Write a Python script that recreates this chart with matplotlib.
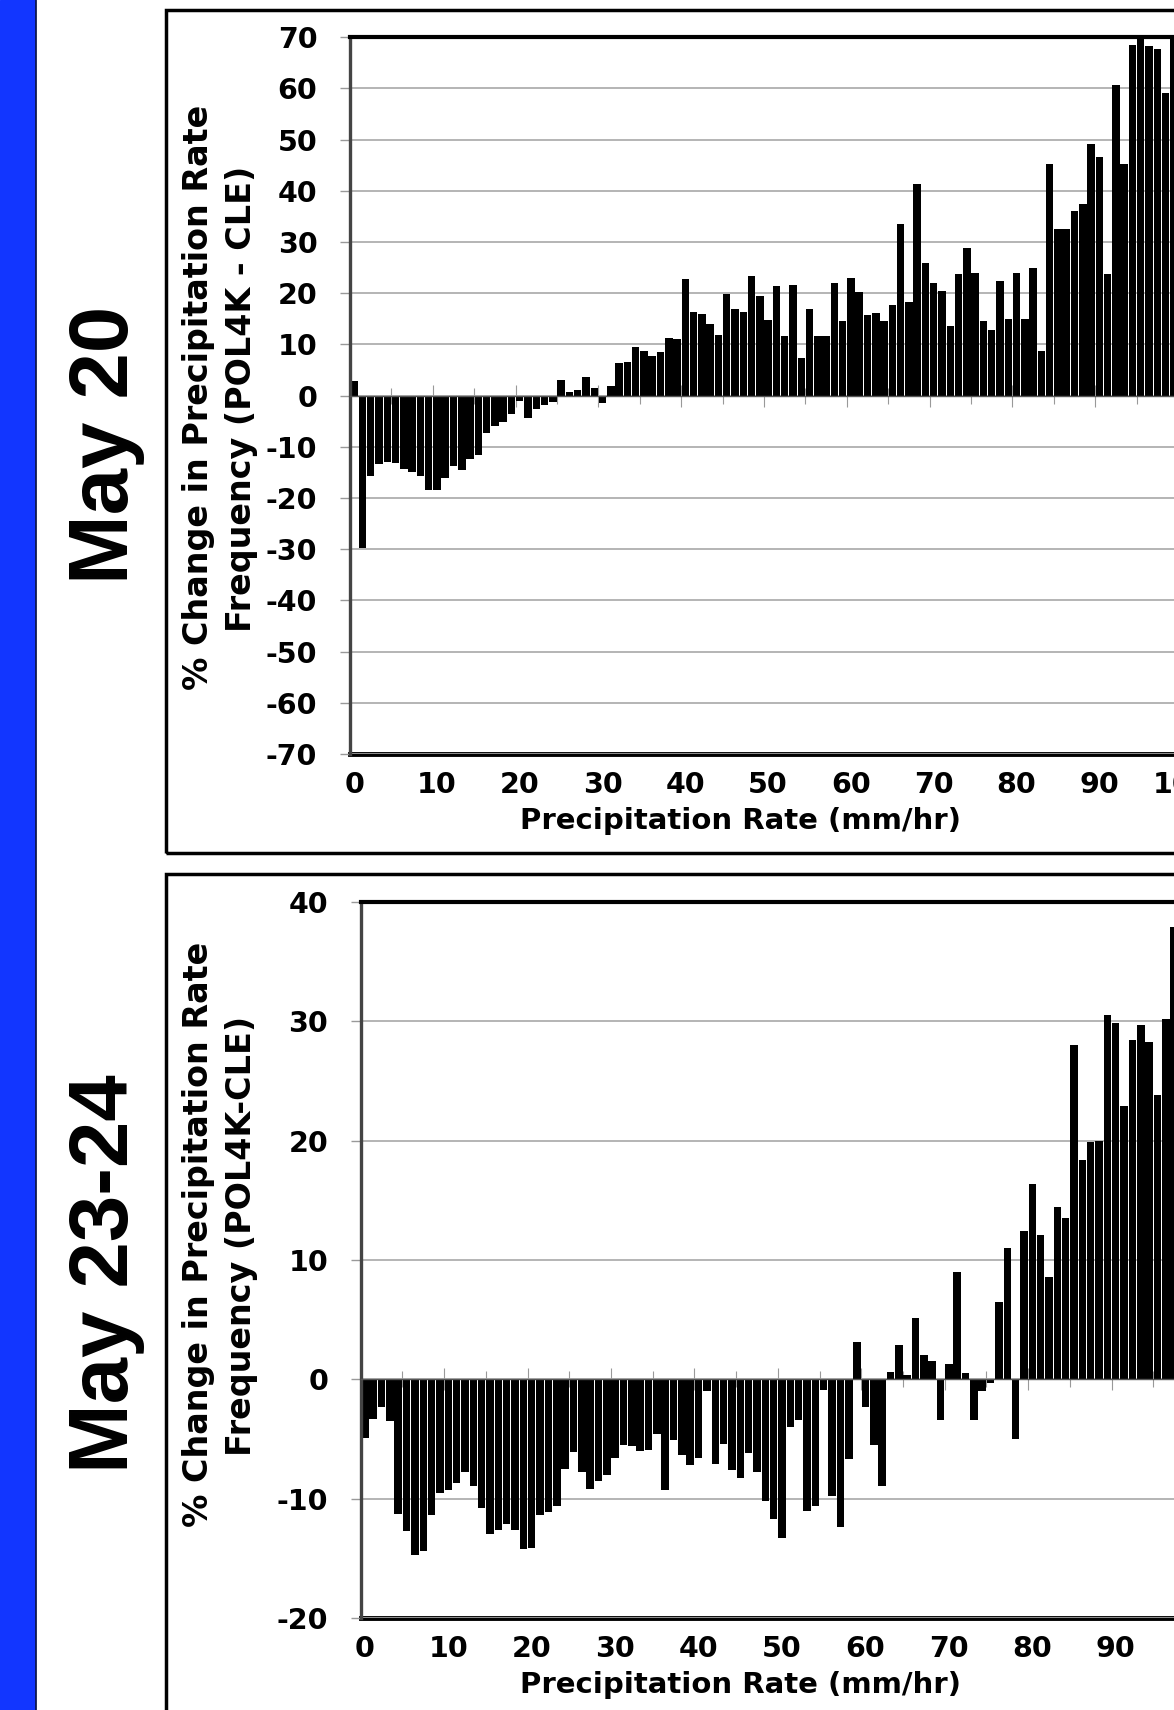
import numpy as np
import matplotlib
matplotlib.use("Agg")
import matplotlib.pyplot as plt
from matplotlib.patches import Rectangle
from matplotlib.lines import Line2D
from matplotlib.ticker import FixedLocator, NullFormatter

# % change in precipitation rate frequency, one bar per 1 mm/hr bin
may20_change = [
    2.8, -29.7, -15.6, -13.4, -13.0, -13.2, -14.3, -15.0, -15.6, -18.5,
    -18.4, -16.0, -13.7, -14.5, -12.4, -11.6, -7.2, -5.9, -5.2, -3.6,
    -1.0, -4.3, -2.7, -1.8, -1.3, 3.0, 0.8, 1.2, 3.7, 1.4,
    -1.5, 1.9, 6.4, 6.6, 9.6, 8.7, 7.8, 8.6, 11.2, 11.1,
    22.7, 16.4, 16.0, 13.9, 11.9, 19.8, 16.9, 16.3, 23.3, 19.4,
    14.8, 21.5, 11.7, 21.6, 7.3, 16.9, 11.7, 11.7, 22.0, 14.5,
    22.9, 20.3, 15.8, 16.2, 14.6, 17.8, 33.5, 18.2, 41.3, 26.0,
    22.0, 20.5, 13.7, 23.7, 28.9, 24.0, 14.6, 12.8, 22.3, 15.0,
    23.9, 15.0, 24.9, 8.7, 45.2, 32.5, 32.5, 36.1, 37.4, 49.2,
    46.6, 23.8, 60.7, 45.2, 68.5, 71.0, 68.3, 67.8, 59.2, 71.0,
]
may23_change = [
    -4.9, -3.3, -2.3, -3.5, -11.3, -12.7, -14.7, -14.4, -11.4, -9.5,
    -9.3, -8.7, -7.8, -8.9, -10.8, -13.0, -12.6, -12.1, -12.6, -14.2,
    -14.1, -11.4, -11.1, -10.6, -7.5, -6.1, -7.8, -9.2, -8.5, -8.0,
    -6.6, -5.5, -5.6, -6.0, -5.9, -4.6, -9.3, -5.1, -6.3, -7.2,
    -6.6, -1.0, -7.1, -5.4, -7.6, -8.3, -6.2, -7.8, -10.2, -11.7,
    -13.3, -4.0, -3.4, -11.0, -10.6, -0.9, -9.8, -12.4, -6.7, 3.1,
    -2.3, -5.5, -8.9, 0.6, 2.9, 0.4, 5.1, 2.0, 1.5, -3.4,
    1.3, 9.0, 0.5, -3.4, -1.0, -0.3, 6.5, 11.0, -5.0, 12.4,
    16.4, 12.1, 8.6, 14.4, 13.5, 28.0, 18.4, 19.9, 20.0, 30.5,
    29.9, 22.9, 28.4, 29.7, 28.3, 23.8, 30.2, 37.9,
]
may20_rate_labels = list(range(0, 101, 10))
may23_rate_labels = list(range(0, 91, 10))
may20_yticks = list(range(-70, 71, 10))
may23_yticks = list(range(-20, 41, 10))

W, H = 1174, 1710
N_BINS = 111  # bins on the category axis (the chart runs past the right edge)

plt.rcParams["font.family"] = ["DejaVu Sans"]
plt.rcParams["font.weight"] = "bold"
plt.rcParams["axes.unicode_minus"] = False

fig = plt.figure(figsize=(W / 100, H / 100), dpi=100)


def fx(px):
    return px / W


def fy(py):
    return 1 - py / H


def draw_panel(values, yticks, rate_labels, left, top, bottom, cat_w):
    ax = fig.add_axes([fx(left), fy(bottom), cat_w * N_BINS / W, (bottom - top) / H])
    x = np.arange(len(values))
    ax.bar(x, values, width=0.9, color="black", zorder=2)
    ax.set_xlim(-0.5, N_BINS - 0.5)
    ax.set_ylim(yticks[0], yticks[-1])
    ax.set_yticks(yticks)
    ax.yaxis.grid(True, color="#a8a8a8", lw=1.2)
    ax.set_axisbelow(True)

    # category axis sits on the zero line, ticks between bins
    ax.spines["bottom"].set_position(("data", 0))
    ax.spines["bottom"].set_linestyle((0, (5, 1)))
    ax.spines["bottom"].set_color("#555555")
    ax.spines["bottom"].set_linewidth(1)
    ax.xaxis.set_major_locator(FixedLocator(np.arange(9.5, N_BINS, 10)))
    ax.xaxis.set_minor_locator(FixedLocator(np.arange(4.5, N_BINS, 10)))
    ax.xaxis.set_major_formatter(NullFormatter())
    ax.tick_params(axis="x", which="major", direction="inout", length=16.5,
                   width=0.8, color="#999999")
    ax.tick_params(axis="x", which="minor", direction="inout", length=11.5,
                   width=0.8, color="#999999")

    ax.tick_params(axis="y", length=7.5, width=1, color="#999999", pad=16,
                   labelsize=20.5)
    ax.spines["left"].set_color("#444444")
    ax.spines["left"].set_linewidth(2.4)
    ax.spines["top"].set_linewidth(3)
    ax.spines["right"].set_visible(False)

    # labels sit low, below the plot frame
    sec = ax.secondary_xaxis("bottom")
    sec.set_xticks(rate_labels)
    sec.tick_params(length=0, pad=12, labelsize=20.5)
    sec.spines["bottom"].set_linewidth(3.5)
    return ax


# blue side bar
fig.add_artist(Rectangle((0, 0), fx(35), 1, transform=fig.transFigure,
                         color="#1236ff", zorder=0))
fig.add_artist(Line2D([fx(35.5), fx(35.5)], [0, 1], transform=fig.transFigure,
                      color="#0b1340", lw=1.2))

# panel frames
fig.add_artist(Rectangle((fx(166), fy(853)), 1.0, (853 - 10) / H,
                         transform=fig.transFigure, fill=False, lw=2.5, ec="black"))
fig.add_artist(Rectangle((fx(166), -0.1), 1.0, fy(874) + 0.1,
                         transform=fig.transFigure, fill=False, lw=2.5, ec="black"))

draw_panel(may20_change, may20_yticks, may20_rate_labels, 350, 37.3, 754, 8.28)
draw_panel(may23_change, may23_yticks, may23_rate_labels, 360.7, 902, 1618, 8.343)

# x labels
fig.text(fx(741), fy(821), "Precipitation Rate (mm/hr)", ha="center",
         va="center", fontsize=21)
fig.text(fx(741), fy(1685), "Precipitation Rate (mm/hr)", ha="center",
         va="center", fontsize=21)

# y labels
fig.text(fx(199), fy(397), "% Change in Precipitation Rate", rotation=90,
         ha="center", va="center", fontsize=24)
fig.text(fx(242), fy(399), "Frequency (POL4K - CLE)", rotation=90,
         ha="center", va="center", fontsize=24)
fig.text(fx(199), fy(1234), "% Change in Precipitation Rate", rotation=90,
         ha="center", va="center", fontsize=24)
fig.text(fx(242), fy(1236), "Frequency (POL4K-CLE)", rotation=90,
         ha="center", va="center", fontsize=24)

# panel titles
fig.text(fx(106), fy(445), "May 20", rotation=90, ha="center", va="center",
         fontsize=60, family=["Liberation Sans", "DejaVu Sans"])
fig.text(fx(106), fy(1274), "May 23-24", rotation=90, ha="center", va="center",
         fontsize=60, family=["Liberation Sans", "DejaVu Sans"])

fig.savefig("out.png", dpi=100)
